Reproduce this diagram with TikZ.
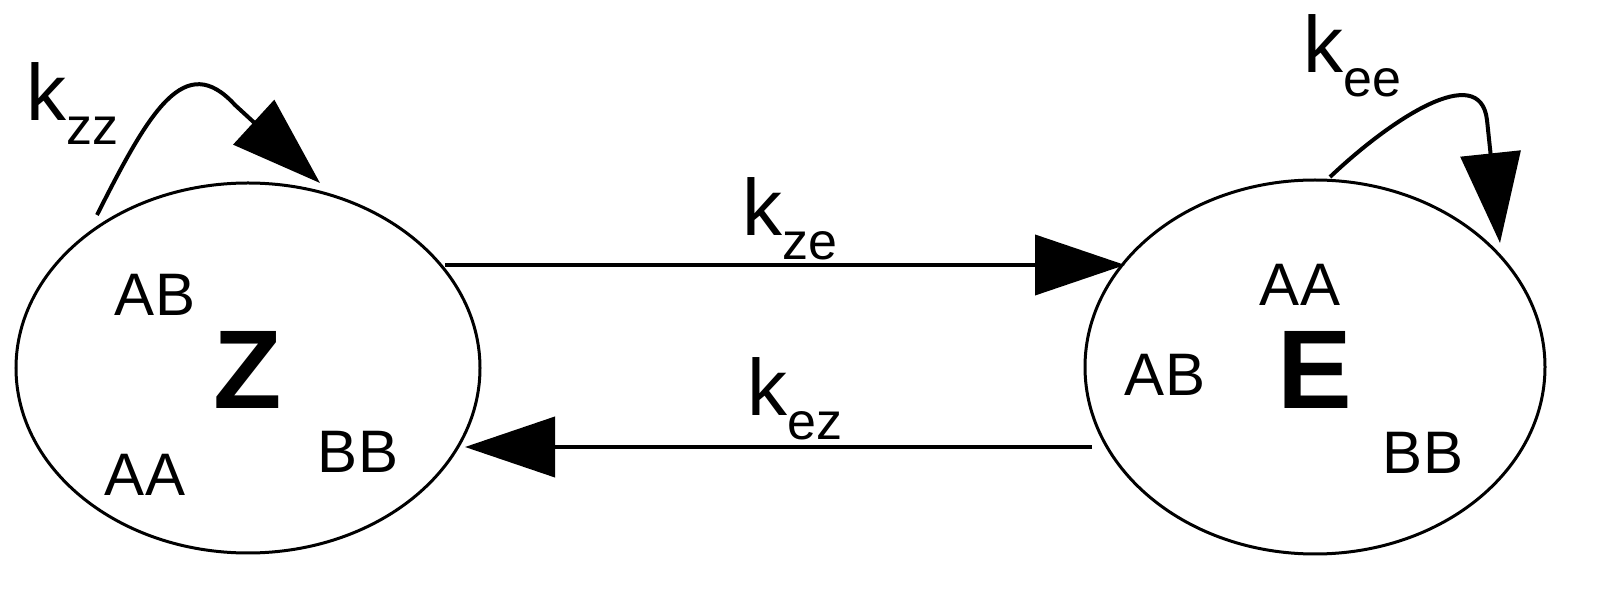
\documentclass[tikz,border=0pt]{standalone}
\usepackage{fontspec}
\setmainfont{Liberation Sans}
\usetikzlibrary{arrows.meta}
\newcommand{\ksub}[1]{k\raisebox{-0.3em}{\fontsize{26}{28}\selectfont #1}}
\begin{document}
\begin{tikzpicture}[x=0.5pt,y=-0.5pt,
  lbl/.style={font=\fontsize{30}{32}\selectfont,inner sep=0pt},
  big/.style={font=\fontsize{56}{58}\selectfont\bfseries,inner sep=0pt},
  kl/.style={font=\fontsize{40}{42}\selectfont,inner sep=0pt,anchor=south},
  conn/.style={line width=2pt,-{Triangle[length=45pt,width=30pt]}}]
\useasboundingbox (0,0) rectangle (1602,598);
\draw[line width=1.5pt] (248,368) ellipse [x radius=232,y radius=185];
\draw[line width=1.5pt] (1315,367) ellipse [x radius=230,y radius=187];
\node[big] (Z) at (248,370) {Z};
\node[big] (E) at (1315,370) {E};
\node[lbl] (zab) at (155,295) {AB};
\node[lbl] (zaa) at (145,475) {AA};
\node[lbl] (zbb) at (358,452) {BB};
\node[lbl] (eaa) at (1300,285) {AA};
\node[lbl] (eab) at (1165,375) {AB};
\node[lbl] (ebb) at (1423,453) {BB};
\coordinate (a1) at (445,265); \coordinate (a2) at (1125,265);
\coordinate (b1) at (1092,447); \coordinate (b2) at (465,447);
\draw[conn] (a1) -- (a2);
\draw[conn] (b1) -- (b2);
\node[kl] (kze) at (790,260) {\ksub{ze}};
\node[kl] (kez) at (795,440) {\ksub{ez}};
\coordinate (z1) at (97,215); \coordinate (z2) at (320,183);
\draw[conn] (z1) .. controls (150,110) and (185,50) .. (235,105) -- (z2);
\coordinate (e1) at (1330,177); \coordinate (e2) at (1500,243);
\draw[conn] (e1) .. controls (1390,120) and (1480,60) .. (1487,120) -- (e2);
\node[kl] (kzz) at (72,145) {\ksub{zz}};
\node[kl] (kee) at (1352,97) {\ksub{ee}};
\end{tikzpicture}
\end{document}
